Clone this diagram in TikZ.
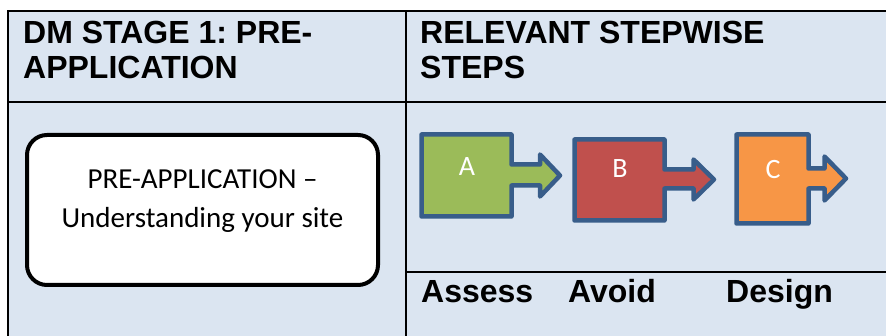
\documentclass[tikz,border=0pt]{standalone}
\usepackage{fontspec}
\setmainfont{Liberation Sans}
\newfontfamily\calibri{Carlito}
\usepackage{xcolor}
\usepackage{tikz}
\usetikzlibrary{calc}
\definecolor{cellbg}{RGB}{219,229,241}
\definecolor{stepline}{RGB}{56,93,138}
\definecolor{greenstep}{RGB}{155,187,89}
\definecolor{redstep}{RGB}{192,80,77}
\definecolor{orangestep}{RGB}{247,150,70}
\frenchspacing

\begin{document}
\begin{tikzpicture}[x=1pt, y=-1pt]
\useasboundingbox (0,0) rectangle (886,336);
\fill[cellbg] (8,11) rectangle (886,336);
\draw[line width=2.4pt] (8,336) -- (8,11) -- (886,11);
\draw[line width=2.4pt] (406,11) -- (406,336);
\draw[line width=2.4pt] (8,102) -- (886,102);
\draw[line width=2.4pt] (406,272) -- (886,272);

\begin{scope}[every node/.style={inner sep=0pt, font=\fontsize{32}{35}\selectfont\bfseries}]
    \node(stage1)[anchor=base west] at (23,44) {DM STAGE 1: PRE-};
    \node(stage2)[anchor=base west] at (23,79) {APPLICATION};
    \node(steps1)[anchor=base west] at (420,44) {RELEVANT STEPWISE};
    \node(steps2)[anchor=base west] at (420,79) {STEPS};
    \node(assess)[anchor=base west] at (421,303) {Assess};
    \node(avoid)[anchor=base west] at (568,303) {Avoid};
    \node(design)[anchor=base west] at (726,303) {Design};
\end{scope}

\node(prebox)[draw, line width=4pt, rounded corners=20pt, fill=white, minimum width=351pt, minimum height=150pt] at (202.5,210) {};
\begin{scope}[every node/.style={inner sep=0pt, font=\calibri\fontsize{29}{39}\selectfont}]
    \node(pre1)[anchor=base] at (202.5,189) {PRE-APPLICATION –};
    \node(pre2)[anchor=base] at (202.5,228) {Understanding your site};
\end{scope}

\begin{scope}[draw=stepline, line width=4.5pt, line join=round, every node/.style={inner sep=0pt, text=white, font=\calibri\fontsize{28}{30}\selectfont}]
\draw[fill=greenstep] (421.5,134.5) -- (511.5,134.5) -- (511.5,164.5) -- (540,164.5) -- (540,154.5) -- (560,175.5)
    -- (540,196.5) -- (540,185.5) -- (511.5,185.5) -- (511.5,216.5) -- (421.5,216.5) -- cycle;
\node(stepa) at (467,167) {A};
\draw[fill=redstep] (574.5,139.5) -- (664.5,139.5) -- (664.5,169.5) -- (693.5,169.5) -- (693.5,159.5) -- (714,179.5)
    -- (693.5,199.5) -- (693.5,188.5) -- (664.5,188.5) -- (664.5,220.5) -- (574.5,220.5) -- cycle;
\node(stepb) at (620,169) {B};
\draw[fill=orangestep] (736.5,134.5) -- (808.5,134.5) -- (808.5,168.5) -- (824.5,168.5) -- (824.5,156.5) -- (846,178.5)
    -- (824.5,200.5) -- (824.5,188.5) -- (808.5,188.5) -- (808.5,223.5) -- (736.5,223.5) -- cycle;
\node(stepc) at (773,170) {C};
\end{scope}
\end{tikzpicture}
\end{document}
